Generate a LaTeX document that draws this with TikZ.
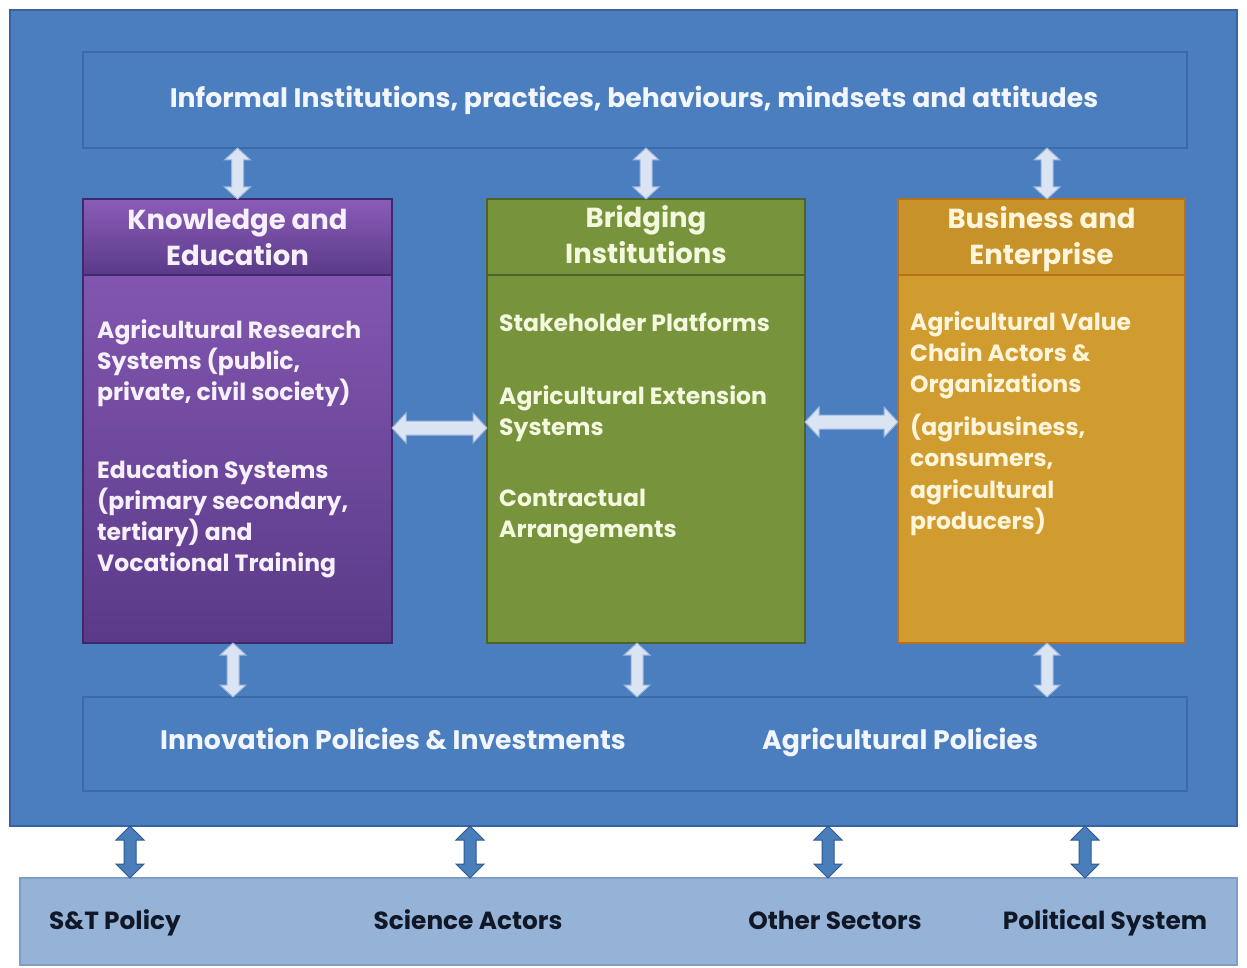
\documentclass[tikz,border=0pt]{standalone}
\usepackage{fontspec}
\setmainfont{Poppins}
\usetikzlibrary{calc}
\definecolor{outerblue}{HTML}{4A7EBF}
\definecolor{outerline}{HTML}{35649E}
\definecolor{innerline}{HTML}{3C6CA8}
\definecolor{lightband}{HTML}{95B3D7}
\definecolor{lightbandline}{HTML}{7E9EC8}
\definecolor{purtop}{HTML}{8A5CB8}
\definecolor{purbot}{HTML}{5A3A88}
\definecolor{purline}{HTML}{3E2A6A}
\definecolor{grn}{HTML}{77933C}
\definecolor{grnline}{HTML}{4F6228}
\definecolor{orn}{HTML}{D09C30}
\definecolor{ornhead}{HTML}{C8922A}
\definecolor{ornline}{HTML}{B8701A}
\definecolor{larrfill}{HTML}{DAE4F3}
\definecolor{larrline}{HTML}{9DB6DC}
\definecolor{darrfill}{HTML}{4A7EBB}
\definecolor{darrline}{HTML}{2C5A91}
\definecolor{purtext}{HTML}{F6F0FB}
\definecolor{grntext}{HTML}{F3F8DE}
\definecolor{orntext}{HTML}{FFF5DA}
\definecolor{bluetext}{HTML}{F2F6FC}
\definecolor{darktext}{HTML}{101828}
\tikzset{
  blockarr/.style n args={3}{to path={
    (\tikztostart)
    -- ($(\tikztostart)!#3!(\tikztotarget)!#2!90:(\tikztotarget)$)
    -- ($(\tikztostart)!#3!(\tikztotarget)!#1!90:(\tikztotarget)$)
    -- ($(\tikztotarget)!#3!(\tikztostart)!#1!-90:(\tikztostart)$)
    -- ($(\tikztotarget)!#3!(\tikztostart)!#2!-90:(\tikztostart)$)
    -- (\tikztotarget)
    -- ($(\tikztotarget)!#3!(\tikztostart)!#2!90:(\tikztostart)$)
    -- ($(\tikztotarget)!#3!(\tikztostart)!#1!90:(\tikztostart)$)
    -- ($(\tikztostart)!#3!(\tikztotarget)!#1!-90:(\tikztotarget)$)
    -- ($(\tikztostart)!#3!(\tikztotarget)!#2!-90:(\tikztotarget)$)
    -- cycle}},
  larrv/.style={blockarr={6pt}{13pt}{12pt}, fill=larrfill, draw=larrline, line width=1pt},
  larrh/.style={blockarr={7pt}{15pt}{14pt}, fill=larrfill, draw=larrline, line width=1pt},
  darr/.style={blockarr={6pt}{14pt}{14pt}, fill=darrfill, draw=darrline, line width=1pt},
  panel/.style={rectangle, inner sep=0pt, outer sep=0pt, anchor=north west},
  headtxt/.style={font=\bfseries\fontsize{27.5}{36}\selectfont, align=center, inner sep=0pt, anchor=north},
  bodytxt/.style={font=\bfseries\fontsize{23.5}{31.3}\selectfont, align=left, inner sep=0pt, anchor=north west},
  bandtxt/.style={font=\bfseries\fontsize{26.7}{30}\selectfont, inner sep=0pt, text=bluetext, anchor=base},
  bottxt/.style={font=\bfseries\fontsize{24.8}{28}\selectfont, inner sep=0pt, text=darktext, anchor=base},
}
\begin{document}
\begin{tikzpicture}[x=1pt,y=-1pt]
\fill[white] (0,0) rectangle (1247,968);
\useasboundingbox (0,0) rectangle (1247,968);

% outer blue panel
\node[panel, fill=outerblue, draw=outerline, line width=2pt, minimum width=1227pt, minimum height=816pt] (outer) at (10,10) {};
% informal band
\node[panel, fill=outerblue, draw=innerline, line width=2pt, minimum width=1104pt, minimum height=96pt] (inf) at (83,52) {};
\node[bandtxt] (inft) at (634,108) {Informal Institutions, practices, behaviours, mindsets and attitudes};
% policy band
\node[panel, fill=outerblue, draw=innerline, line width=2pt, minimum width=1104pt, minimum height=94pt] (pol) at (83,697) {};
\node[bandtxt] (polA) at (393,749) {Innovation Policies \& Investments};
\node[bandtxt] (polB) at (900,749) {Agricultural Policies};
% bottom band
\node[panel, fill=lightband, draw=lightbandline, line width=1.5pt, minimum width=1217pt, minimum height=87pt] (bot) at (20,878) {};
\node[bottxt] (b1) at (115,929) {S\&T Policy};
\node[bottxt] (b2) at (468,929) {Science Actors};
\node[bottxt] (b3) at (835,929) {Other Sectors};
\node[bottxt] (b4) at (1105,929) {Political System};

% knowledge box
\node[panel, top color=purtop, bottom color=purbot, draw=purline, line width=2pt, minimum width=309pt, minimum height=444pt] (kn) at (83,199) {};
\shade[top color=purtop, bottom color=purbot] (84,200) rectangle (391,275);
\draw[purline, line width=2.5pt] (84,275) -- (391,275);
\draw[purline, line width=2pt] (83,199) rectangle (392,643);
\node[headtxt, text=purtext] (knh) at (237.5,208.5) {Knowledge and\\Education};
\node[bodytxt, text=purtext] (knb1) at (97,319) {Agricultural Research\\Systems (public,\\private, civil society)};
\node[bodytxt, text=purtext] (knb2) at (97,459) {Education Systems\\(primary secondary,\\tertiary) and\\Vocational Training};

% bridging box
\node[panel, fill=grn, draw=grnline, line width=2pt, minimum width=318pt, minimum height=444pt] (br) at (487,199) {};
\draw[grnline, line width=2.5pt] (488,275) -- (804,275);
\node[headtxt, text=grntext] (brh) at (646,205.5) {Bridging\\Institutions};
\node[bodytxt, text=grntext] (brb1) at (499,313) {Stakeholder Platforms};
\node[bodytxt, text=grntext] (brb2) at (499,385) {Agricultural Extension\\Systems};
\node[bodytxt, text=grntext] (brb3) at (499,489) {Contractual\\Arrangements};

% business box
\node[panel, fill=orn, draw=ornline, line width=2pt, minimum width=287pt, minimum height=444pt] (be) at (898,199) {};
\fill[ornhead] (899,200) rectangle (1184,275);
\draw[ornline, line width=2.5pt] (899,275) -- (1184,275);
\draw[ornline, line width=2pt] (898,199) rectangle (1185,643);
\node[headtxt, text=orntext] (beh) at (1041.5,206) {Business and\\Enterprise};
\node[bodytxt, text=orntext] (beb1) at (910,311) {Agricultural Value\\Chain Actors \&\\Organizations};
\node[bodytxt, text=orntext] (beb2) at (910,414) {(agribusiness,\\consumers,\\agricultural\\producers)};

% x positions of connectors
\coordinate (xa) at (1047,0);
\coordinate (xb) at (233,0);
\coordinate (xc) at (637,0);
\coordinate (d1) at (130,0);
\coordinate (d2) at (470,0);
\coordinate (d3) at (828,0);
\coordinate (d4) at (1085,0);
\coordinate (hy1) at (0,428);
\coordinate (hy2) at (0,422);

% informal <-> boxes
\draw[larrv] (inf.south -| kn.north) to (kn.north);
\draw[larrv] (inf.south -| br.north) to (br.north);
\draw[larrv] (inf.south -| xa) to (be.north -| xa);
% boxes <-> boxes
\draw[larrh] (kn.east |- hy1) to (br.west |- hy1);
\draw[larrh] (br.east |- hy2) to (be.west |- hy2);
% boxes <-> policies
\draw[larrv] (kn.south -| xb) to (pol.north -| xb);
\draw[larrv] (br.south -| xc) to (pol.north -| xc);
\draw[larrv] (be.south -| xa) to (pol.north -| xa);
% outer <-> bottom band
\draw[darr] (outer.south -| d1) to (bot.north -| d1);
\draw[darr] (outer.south -| d2) to (bot.north -| d2);
\draw[darr] (outer.south -| d3) to (bot.north -| d3);
\draw[darr] (outer.south -| d4) to (bot.north -| d4);
\end{tikzpicture}
\end{document}
